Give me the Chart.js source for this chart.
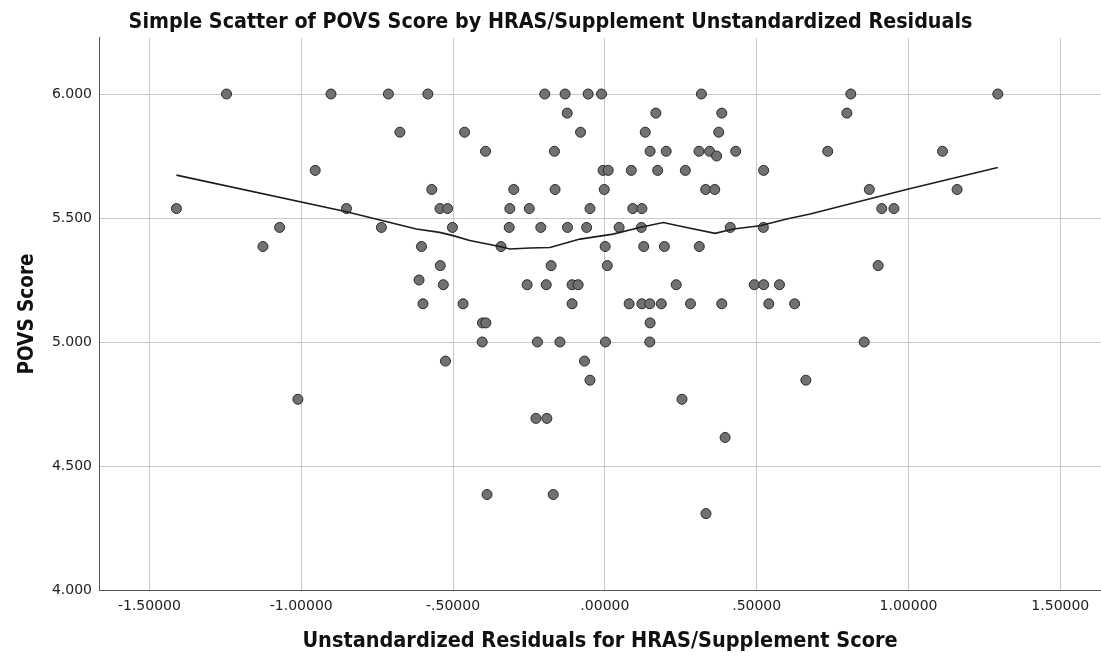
<!DOCTYPE html>
<html>
<head>
<meta charset="utf-8">
<script src="https://cdn.jsdelivr.net/npm/chart.js@4.4.1/dist/chart.umd.min.js"></script>
<style>
  html, body { margin: 0; padding: 0; background: #fff; }
  canvas { display: block; }
</style>
</head>
<body>
<canvas id="scatter" width="1101" height="658"></canvas>
<script>
// residuals (x) and POVS score (y)
const residuals = [
  -1.246, -0.902, -0.713, -0.583, -0.198, -0.131, -0.055, -0.011, 0.318, 0.810, 1.294,
  -0.124, 0.168, 0.385, 0.797,
  -0.675, -0.462, -0.080, 0.133, 0.375,
  -0.393, -0.166, 0.149, 0.202, 0.310, 0.345, 0.431, 0.734, 1.112,
  0.368,
  -0.954, -0.006, 0.011, 0.087, 0.174, 0.265, 0.523,
  -0.570, -0.300, -0.164, -0.002, 0.332, 0.362, 0.871, 1.160,
  -1.411, -0.851, -0.543, -0.518, -0.313, -0.249, -0.049, 0.092, 0.122, 0.912, 0.952,
  -1.071, -0.736, -0.502, -0.315, -0.211, -0.123, -0.060, 0.047, 0.120, 0.413, 0.522,
  -1.126, -0.604, -0.342, 0.001, 0.128, 0.196, 0.311,
  -0.542, -0.177, 0.008, 0.900,
  -0.612,
  -0.532, -0.256, -0.193, -0.108, -0.088, 0.235, 0.492, 0.523, 0.575,
  -0.599, -0.467, -0.108, 0.080, 0.122, 0.148, 0.186, 0.282, 0.385, 0.540, 0.625,
  -0.403, -0.392, 0.149,
  -0.404, -0.222, -0.148, 0.002, 0.148, 0.854,
  -0.525, -0.067,
  -0.049, 0.662,
  -1.011, 0.254,
  -0.227, -0.191,
  0.396,
  -0.388, -0.170,
  0.333
];
const povs = [
  6.000, 6.000, 6.000, 6.000, 6.000, 6.000, 6.000, 6.000, 6.000, 6.000, 6.000,
  5.923, 5.923, 5.923, 5.923,
  5.846, 5.846, 5.846, 5.846, 5.846,
  5.769, 5.769, 5.769, 5.769, 5.769, 5.769, 5.769, 5.769, 5.769,
  5.750,
  5.692, 5.692, 5.692, 5.692, 5.692, 5.692, 5.692,
  5.615, 5.615, 5.615, 5.615, 5.615, 5.615, 5.615, 5.615,
  5.538, 5.538, 5.538, 5.538, 5.538, 5.538, 5.538, 5.538, 5.538, 5.538, 5.538,
  5.462, 5.462, 5.462, 5.462, 5.462, 5.462, 5.462, 5.462, 5.462, 5.462, 5.462,
  5.385, 5.385, 5.385, 5.385, 5.385, 5.385, 5.385,
  5.308, 5.308, 5.308, 5.308,
  5.250,
  5.231, 5.231, 5.231, 5.231, 5.231, 5.231, 5.231, 5.231, 5.231,
  5.154, 5.154, 5.154, 5.154, 5.154, 5.154, 5.154, 5.154, 5.154, 5.154, 5.154,
  5.077, 5.077, 5.077,
  5.000, 5.000, 5.000, 5.000, 5.000, 5.000,
  4.923, 4.923,
  4.846, 4.846,
  4.769, 4.769,
  4.692, 4.692,
  4.615,
  4.385, 4.385,
  4.308
];

// loess fit line
const fitX = [-1.411, -0.851, -0.731, -0.621, -0.544, -0.500, -0.445, -0.342, -0.313, -0.247, -0.181,
  -0.082, 0.027, 0.115, 0.192, 0.269, 0.363, 0.423, 0.511, 0.599, 0.676, 1.000, 1.294];
const fitY = [5.673, 5.525, 5.489, 5.456, 5.442, 5.429, 5.409, 5.384, 5.375, 5.379, 5.381,
  5.415, 5.435, 5.462, 5.482, 5.462, 5.438, 5.456, 5.469, 5.496, 5.516, 5.617, 5.704];

const xTicks = [-1.5, -1.0, -0.5, 0, 0.5, 1.0, 1.5];
const yTicks = [4.0, 4.5, 5.0, 5.5, 6.0];

const points = residuals.map((x, i) => ({ x: x, y: povs[i] }));
const fit = fitX.map((x, i) => ({ x: x, y: fitY[i] }));

const boldFont = "'DejaVu Sans Condensed', 'DejaVu Sans', sans-serif";
const tickFont = { family: "'DejaVu Sans', sans-serif", size: 14 };

// SPSS style: 1.50000 -> "1.50000", 0.5 -> ".50000"
function fmtX(v) {
  let s = Math.abs(v).toFixed(5).replace(/^0\./, '.');
  return (v < -1e-9 ? '-' : '') + s;
}

new Chart(document.getElementById('scatter'), {
  type: 'scatter',
  data: {
    datasets: [
      {
        data: fit, type: 'line', showLine: true, fill: false, tension: 0,
        borderColor: '#1c1c1c', borderWidth: 1.6, pointRadius: 0, order: 0
      },
      {
        data: points, pointRadius: 5, pointBackgroundColor: '#717171',
        pointBorderColor: '#2a2a2a', pointBorderWidth: 1, order: 1
      }
    ]
  },
  options: {
    responsive: false,
    animation: false,
    layout: { padding: 0, autoPadding: false },
    plugins: {
      legend: { display: false },
      tooltip: { enabled: false },
      title: {
        display: true,
        text: 'Simple Scatter of POVS Score by HRAS/Supplement Unstandardized Residuals',
        color: '#111',
        font: { family: boldFont, size: 21.3, weight: 'bold' },
        padding: { top: 10, bottom: 2.4 }
      }
    },
    scales: {
      x: {
        type: 'linear', min: -1.666, max: 1.634,
        afterFit: s => { s.height = 68; s.paddingLeft = 0; s.paddingRight = 0; },
        afterBuildTicks: s => { s.ticks = xTicks.map(v => ({ value: v })); },
        grid: { color: '#c9c9c9', lineWidth: 1, drawTicks: false },
        border: { display: true, color: '#555', width: 1 },
        ticks: { font: tickFont, color: '#222', padding: 8, callback: v => fmtX(v) },
        title: {
          display: true, text: 'Unstandardized Residuals for HRAS/Supplement Score',
          color: '#111', font: { family: boldFont, size: 21.5, weight: 'bold' },
          padding: { top: 4, bottom: 4 }
        }
      },
      y: {
        type: 'linear', min: 4.0, max: 6.226,
        afterFit: s => { s.width = 99; s.paddingTop = 0; s.paddingBottom = 0; },
        afterBuildTicks: s => { s.ticks = yTicks.map(v => ({ value: v })); },
        grid: { color: '#c9c9c9', lineWidth: 1, drawTicks: false },
        border: { display: true, color: '#555', width: 1 },
        ticks: { font: tickFont, color: '#222', padding: 7, callback: v => v.toFixed(3) },
        title: {
          display: true, text: 'POVS Score',
          color: '#111', font: { family: boldFont, size: 20.5, weight: 'bold' },
          padding: { top: 15, bottom: 4 }
        }
      }
    }
  }
});
</script>
</body>
</html>
